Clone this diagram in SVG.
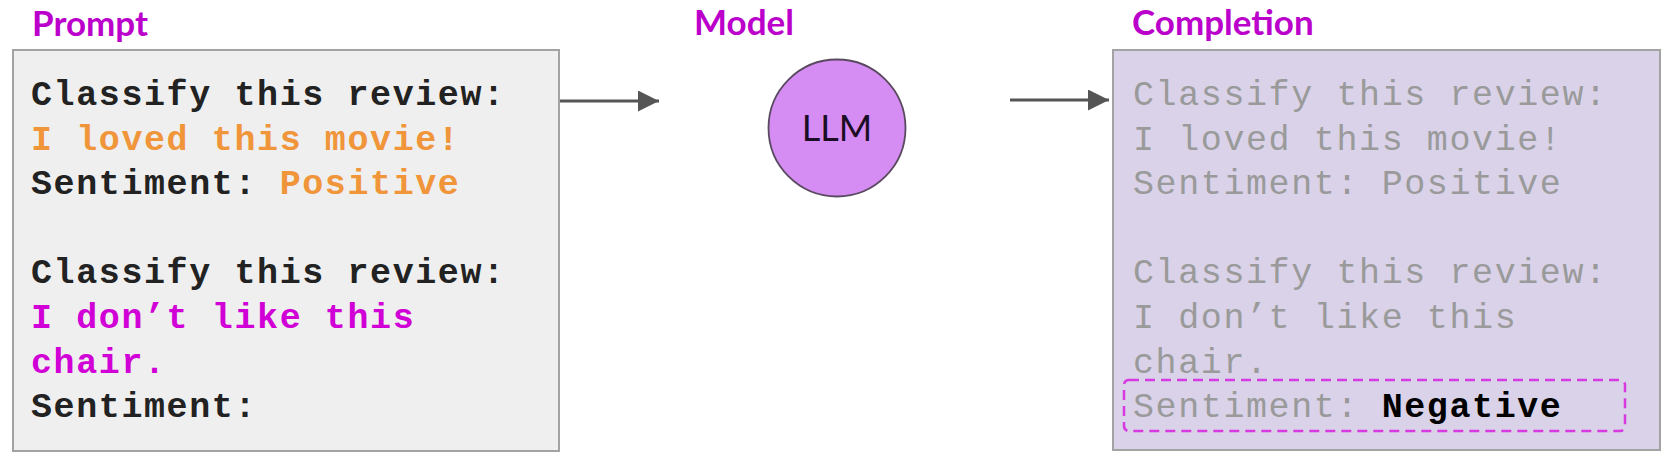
<svg xmlns="http://www.w3.org/2000/svg" width="1677" height="468" viewBox="0 0 1677 468">
  <style>
    .title { font-family: Lato, "Open Sans", sans-serif; font-weight: bold; font-size: 35px; fill: #bb00cc; }
    .mono { font-family: "Liberation Mono", "Courier New", monospace; font-size: 35px; letter-spacing: 1.6px; }
    .blk { fill: #222222; font-weight: bold; }
    .org { fill: #f0953a; font-weight: bold; }
    .mag { fill: #d000d6; font-weight: bold; }
    .gry { fill: #9a9a9a; }
    .neg { fill: #000000; font-weight: bold; }
    .conn { stroke: #555555; stroke-width: 3; fill: none; }
  </style>
  <defs>
    <marker id="arrow" viewBox="0 0 10 10" refX="10" refY="5" markerWidth="8" markerHeight="7" markerUnits="strokeWidth" orient="auto">
      <path d="M0,0 L10,5 L0,10 z" fill="#555555"/>
    </marker>
  </defs>
  <rect width="1677" height="468" fill="#ffffff"/>

  <g id="prompt">
    <text class="title" x="32" y="36">Prompt</text>
    <rect x="13" y="50" width="546" height="401" fill="#efefef" stroke="#a3a3a3" stroke-width="2"/>
    <text class="mono blk" x="31" y="105">Classify this review:</text>
    <text class="mono org" x="31" y="149.6">I loved this movie!</text>
    <text class="mono" x="31" y="194.2"><tspan class="blk">Sentiment: </tspan><tspan class="org">Positive</tspan></text>
    <text class="mono blk" x="31" y="283.4">Classify this review:</text>
    <text class="mono mag" x="31" y="328">I don’t like this</text>
    <text class="mono mag" x="31" y="372.6">chair.</text>
    <text class="mono blk" x="31" y="417.2">Sentiment:</text>
  </g>

  <g id="model">
    <text class="title" x="694" y="35">Model</text>
    <circle cx="837" cy="128" r="68.5" fill="#d58cf3" stroke="#5a4a60" stroke-width="1.8"/>
    <text x="837" y="141" text-anchor="middle" font-family="Lato, 'Open Sans', sans-serif" font-size="36" fill="#1a0d24">LLM</text>
  </g>

  <g id="completion">
    <text class="title" x="1132" y="35">Completion</text>
    <rect x="1113" y="50" width="547" height="400" fill="#d9d2e9" stroke="#a3a3a3" stroke-width="2"/>
    <text class="mono gry" x="1133" y="105">Classify this review:</text>
    <text class="mono gry" x="1133" y="149.6">I loved this movie!</text>
    <text class="mono gry" x="1133" y="194.2">Sentiment: Positive</text>
    <text class="mono gry" x="1133" y="283.4">Classify this review:</text>
    <text class="mono gry" x="1133" y="328">I don’t like this</text>
    <text class="mono gry" x="1133" y="372.6">chair.</text>
    <rect x="1124" y="380" width="501" height="51" rx="5" fill="none" stroke="#d63ae0" stroke-width="2.5" stroke-dasharray="10 6"/>
    <text class="mono" x="1133" y="417.2"><tspan class="gry">Sentiment: </tspan><tspan class="neg">Negative</tspan></text>
  </g>

  <g id="connectors">
    <line class="conn" x1="560" y1="101" x2="659" y2="101" marker-end="url(#arrow)"/>
    <line class="conn" x1="1010" y1="100" x2="1109" y2="100" marker-end="url(#arrow)"/>
  </g>
</svg>
